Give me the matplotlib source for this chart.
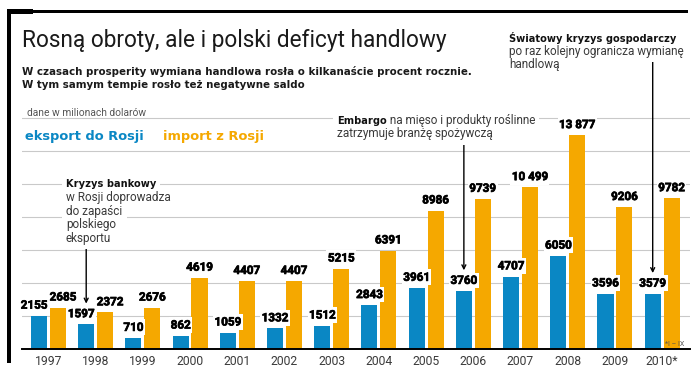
import matplotlib
matplotlib.use("Agg")
import matplotlib.pyplot as plt
from matplotlib.patches import Rectangle
import matplotlib.patheffects as pe
import numpy as np

# ---------------- data ----------------
years = ["1997", "1998", "1999", "2000", "2001", "2002", "2003",
         "2004", "2005", "2006", "2007", "2008", "2009", "2010*"]
export_to_russia = [2155, 1597, 710, 862, 1059, 1332, 1512,
                    2843, 3961, 3760, 4707, 6050, 3596, 3579]
import_from_russia = [2685, 2372, 2676, 4619, 4407, 4407, 5215,
                      6391, 8986, 9739, 10499, 13877, 9206, 9782]

title = "Rosną obroty, ale i polski deficyt handlowy"
subtitle = ["W czasach prosperity wymiana handlowa rosła o kilkanaście procent rocznie.",
            "W tym samym tempie rosło też negatywne saldo"]
unit_note = "dane w milionach dolarów"
legend_labels = ["eksport do Rosji", "import z Rosji"]
footnote = "*I – IX"

BLUE = "#0a87c4"
ORANGE = "#f5a800"
GRID = "#c9c9c9"
DARK = "#3a3a3a"

W, H = 700, 369
SANS = ["Roboto", "DejaVu Sans"]
HEAVY = ["DejaVu Sans"]

fig = plt.figure(figsize=(W / 100, H / 100), dpi=100)
fig.patch.set_facecolor("white")
renderer = fig.canvas.get_renderer()


def fx(x):
    return x / W


def fy(y):
    return 1 - y / H


# axes: bottom at pixel 349, top at pixel 100, left 22, right 690
ax = fig.add_axes([fx(22), 1 - 349 / H, (690 - 22) / W, (349 - 100) / H])
px_per_unit = 0.0154
ax.set_ylim(0, (349 - 100) / px_per_unit)
ax.set_xlim(-0.56, 13.59)

x = np.arange(len(years))
bw, off = 0.34, 0.2
ax.bar(x - off, export_to_russia, bw, color=BLUE, zorder=2)
ax.bar(x + off, import_from_russia, bw, color=ORANGE, zorder=2)

grid_step = 2140
for k in range(1, 8):
    ax.axhline(k * grid_step, color=GRID, lw=0.8, zorder=0)

for s in ["left", "right", "top"]:
    ax.spines[s].set_visible(False)
ax.spines["bottom"].set_color("black")
ax.spines["bottom"].set_linewidth(1.4)
ax.spines["bottom"].set_zorder(3)
ax.set_yticks([])
ax.set_xticks(x)
ax.set_xticklabels(years, fontsize=8.7, color=DARK, family=SANS)
ax.tick_params(axis="x", length=0, pad=4)


def fmt(v):
    return f"{v:,}".replace(",", " ") if v >= 10000 else str(v)


heavy_fx = [pe.withStroke(linewidth=0.5, foreground="black")]
for i, (e, m) in enumerate(zip(export_to_russia, import_from_russia)):
    dx = 3.6 if abs(m - e) < 900 else 0
    for xpos, v, d in ((i - off, e, -dx), (i + off, m, dx)):
        ax.annotate(fmt(v), xy=(xpos, v), xytext=(d, 3), textcoords="offset points",
                    ha="center", va="bottom", fontsize=8.4, fontweight="bold",
                    family=SANS, color="black", zorder=5, path_effects=heavy_fx,
                    bbox=dict(boxstyle="square,pad=0.12", fc="white", ec="none"))

# ---------------- frame decorations ----------------
fig.add_artist(Rectangle((fx(7), fy(363)), 4 / W, (363 - 9) / H, transform=fig.transFigure,
                         color="black", lw=0))
fig.add_artist(Rectangle((fx(7), fy(14)), (33 - 7) / W, 5 / H, transform=fig.transFigure,
                         color="black", lw=0))
fig.add_artist(Rectangle((fx(7), fy(13)), (688 - 7) / W, 3 / H, transform=fig.transFigure,
                         color="black", lw=0))

# ---------------- texts ----------------
fig.text(fx(22), fy(47), title, fontsize=16.3, family=SANS, color="#1a1a1a", va="baseline")
fig.text(fx(22), fy(75), subtitle[0], fontsize=7.4, fontweight="bold", family=HEAVY,
         color="#1a1a1a", va="baseline")
fig.text(fx(22), fy(88.5), subtitle[1], fontsize=7.4, fontweight="bold", family=HEAVY,
         color="#1a1a1a", va="baseline")
fig.text(fx(27), fy(115.5), unit_note, fontsize=7.4, family=SANS, color="#555555",
         va="baseline", zorder=5)
fig.text(fx(25), fy(140), legend_labels[0], fontsize=9.4, fontweight="bold", family=HEAVY,
         color=BLUE, va="baseline")
fig.text(fx(163), fy(140), legend_labels[1], fontsize=9.4, fontweight="bold", family=HEAVY,
         color=ORANGE, va="baseline")
fig.text(fx(665), fy(346), footnote, fontsize=5, family=SANS, color="#555555", va="baseline")


def boxed_text(xp, yp, txt, **kw):
    """white knock-out box underneath (zorder 5), text on top (zorder 7)"""
    kw_box = dict(kw)
    kw_box["color"] = (1, 1, 1, 0)
    fig.text(fx(xp), fy(yp), txt, va="baseline", zorder=5,
             bbox=dict(boxstyle="square,pad=0.36", fc="white", ec="none"), **kw_box)
    return fig.text(fx(xp), fy(yp), txt, va="baseline", zorder=7, **kw)


BOLD_KW = dict(fontsize=7.1, fontweight="bold", family=HEAVY, color="#111111")
REG_KW = dict(fontsize=8.5, family=SANS, color=DARK)


def mixed_line(xp, yp, bold, rest):
    t1 = boxed_text(xp, yp, bold, **BOLD_KW)
    if rest:
        bb = t1.get_window_extent(renderer)
        boxed_text(bb.x1, yp, rest, **REG_KW)


def plain_line(xp, yp, txt):
    boxed_text(xp, yp, txt, **REG_KW)


# Embargo
mixed_line(337, 124, "Embargo", " na mięso i produkty roślinne")
plain_line(337, 137.5, "zatrzymuje branżę spożywczą")

# Światowy kryzys
mixed_line(509, 41.7, "Światowy kryzys gospodarczy", "")
plain_line(509, 55, "po raz kolejny ogranicza wymianę")
plain_line(509, 68.3, "handlową")

# Kryzys bankowy
mixed_line(66, 187.3, "Kryzys bankowy", "")
plain_line(66, 200.7, "w Rosji doprowadza")
plain_line(66, 214.5, "do zapaści")
plain_line(66, 228.2, "polskiego")
plain_line(66, 241.8, "eksportu")

# arrows pointing at export bars
arrow_years = ["1998", "2006", "2010*"]
arrow_starts = [6750, 13380, 18640]
for yr, start in zip(arrow_years, arrow_starts):
    i = years.index(yr)
    tip = export_to_russia[i] + 1350
    ax.annotate("", xy=(i - off, tip), xytext=(i - off, start),
                arrowprops=dict(arrowstyle="->", color="black", lw=1.0,
                                mutation_scale=7, shrinkA=0, shrinkB=0),
                annotation_clip=False, zorder=4)

fig.savefig("out.png", dpi=100)
